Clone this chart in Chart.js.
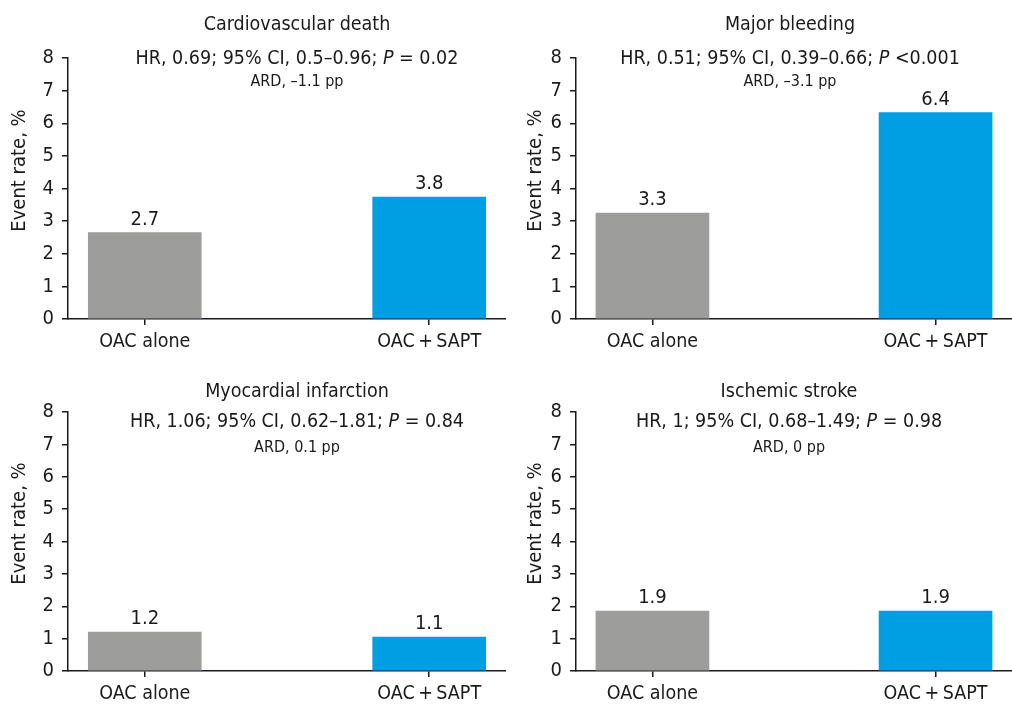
<!DOCTYPE html>
<html>
<head>
<meta charset="utf-8">
<script src="https://cdn.jsdelivr.net/npm/chart.js@4.4.1/dist/chart.umd.min.js"></script>
<style>
  html, body { margin: 0; padding: 0; background: #fff; }
  #wrap { position: relative; width: 1012px; height: 704px; }
  .panel { position: absolute; width: 506px; height: 352px; }
</style>
</head>
<body>
<div id="wrap">
  <div class="panel" style="left:0;top:0"><canvas id="c0"></canvas></div>
  <div class="panel" style="left:506px;top:0"><canvas id="c1"></canvas></div>
  <div class="panel" style="left:0;top:352px"><canvas id="c2"></canvas></div>
  <div class="panel" style="left:506px;top:352px"><canvas id="c3"></canvas></div>
</div>
<script>
// data
const groups = ['OAC alone', 'OAC\u2009+\u2009SAPT'];
const outcomes = ['Cardiovascular death', 'Major bleeding', 'Myocardial infarction', 'Ischemic stroke'];
const hrText = ['HR, 0.69; 95% CI, 0.5\u20130.96; ', 'HR, 0.51; 95% CI, 0.39\u20130.66; ',
                'HR, 1.06; 95% CI, 0.62\u20131.81; ', 'HR, 1; 95% CI, 0.68\u20131.49; '];
const pText = [' = 0.02', ' <0.001', ' = 0.84', ' = 0.98'];
const ardText = ['ARD, \u20131.1 pp', 'ARD, \u20133.1 pp', 'ARD, 0.1 pp', 'ARD, 0 pp'];
const oacAlone = [2.65, 3.25, 1.2, 1.85];
const oacSapt = [3.74, 6.33, 1.05, 1.85];
const oacAloneLabels = ['2.7', '3.3', '1.2', '1.9'];
const oacSaptLabels = ['3.8', '6.4', '1.1', '1.9'];
const yTitle = 'Event rate, %';

const FONT = "'DejaVu Sans Condensed', 'Liberation Sans Narrow', sans-serif";
const INK = '#1a1a1a';
const barColors = ['#9d9d9c', '#009fe3'];

Chart.defaults.font.family = FONT;
Chart.defaults.color = INK;

// per panel layout
const panels = [
  { axisW: 68, padTop: 58, headX: 297, headY: [25, 59, 82], titleX: 20 },
  { axisW: 70, padTop: 58, headX: 284, headY: [25, 59, 82], titleX: 30 },
  { axisW: 68, padTop: 60, headX: 297, headY: [40, 70, 96], titleX: 20 },
  { axisW: 70, padTop: 60, headX: 283, headY: [40, 70, 96], titleX: 30 }
];

const headerPlugin = {
  id: 'header',
  afterDraw(chart, args, opts) {
    const ctx = chart.ctx;
    const i = opts.index;
    const p = panels[i];
    const normal = '19.5px ' + FONT;
    const italic = 'italic 19.5px ' + FONT;
    ctx.save();
    ctx.fillStyle = INK;
    ctx.textBaseline = 'middle';
    ctx.textAlign = 'center';
    ctx.font = normal;
    ctx.fillText(outcomes[i], p.headX, p.headY[0]);

    // HR line with italic P
    const w1 = ctx.measureText(hrText[i]).width;
    const w3 = ctx.measureText(pText[i]).width;
    ctx.font = italic;
    const w2 = ctx.measureText('P').width;
    let x = p.headX - (w1 + w2 + w3) / 2;
    ctx.textAlign = 'left';
    ctx.font = normal;
    ctx.fillText(hrText[i], x, p.headY[1]);
    x += w1;
    ctx.font = italic;
    ctx.fillText('P', x, p.headY[1]);
    x += w2;
    ctx.font = normal;
    ctx.fillText(pText[i], x, p.headY[1]);

    ctx.textAlign = 'center';
    ctx.font = '16px ' + FONT;
    ctx.fillText(ardText[i], p.headX, p.headY[2]);

    // y axis title
    const ca = chart.chartArea;
    ctx.translate(p.titleX, (ca.top + ca.bottom) / 2 - 18);
    ctx.rotate(-Math.PI / 2);
    ctx.font = '20px ' + FONT;
    ctx.fillText(yTitle, 0, 0);
    ctx.restore();
  }
};

const valueLabelPlugin = {
  id: 'valueLabels',
  afterDatasetsDraw(chart, args, opts) {
    const ctx = chart.ctx;
    const meta = chart.getDatasetMeta(0);
    ctx.save();
    ctx.fillStyle = INK;
    ctx.font = '20px ' + FONT;
    ctx.textAlign = 'center';
    ctx.textBaseline = 'bottom';
    meta.data.forEach((bar, j) => {
      ctx.fillText(opts.labels[j], bar.x, bar.y - 3);
    });
    ctx.restore();
  }
};

panels.forEach((p, i) => {
  const values = [oacAlone[i], oacSapt[i]];
  new Chart(document.getElementById('c' + i), {
    type: 'bar',
    data: {
      datasets: [{
        data: values.map((v, j) => ({ x: j, y: v })),
        backgroundColor: barColors,
        borderWidth: 0,
        barThickness: 113
      }]
    },
    options: {
      responsive: true,
      maintainAspectRatio: false,
      animation: false,
      layout: { padding: { top: p.padTop, left: 0, right: 0, bottom: 0 } },
      plugins: {
        legend: { display: false },
        tooltip: { enabled: false },
        header: { index: i },
        valueLabels: { labels: [oacAloneLabels[i], oacSaptLabels[i]] }
      },
      scales: {
        x: {
          type: 'linear',
          min: -0.27,
          max: 1.27,
          offset: false,
          afterBuildTicks: (scale) => { scale.ticks = groups.map((g, j) => ({ value: j })); },
          afterFit: (scale) => { scale.height = 33; },
          grid: { offset: false, drawOnChartArea: false, drawTicks: true, tickLength: 6, color: INK, lineWidth: 1.5 },
          border: { color: INK, width: 1.5 },
          ticks: {
            autoSkip: false,
            maxRotation: 0,
            padding: 5,
            font: { size: 19.5 },
            callback: (v) => groups[v]
          }
        },
        y: {
          min: 0,
          max: 8,
          afterFit: (scale) => { scale.width = p.axisW; },
          grid: { drawOnChartArea: false, drawTicks: true, tickLength: 6, color: INK, lineWidth: 1.5 },
          border: { color: INK, width: 1.5 },
          ticks: { stepSize: 1, padding: 8, font: { size: 20 } }
        }
      }
    },
    plugins: [headerPlugin, valueLabelPlugin]
  });
});
</script>
</body>
</html>
